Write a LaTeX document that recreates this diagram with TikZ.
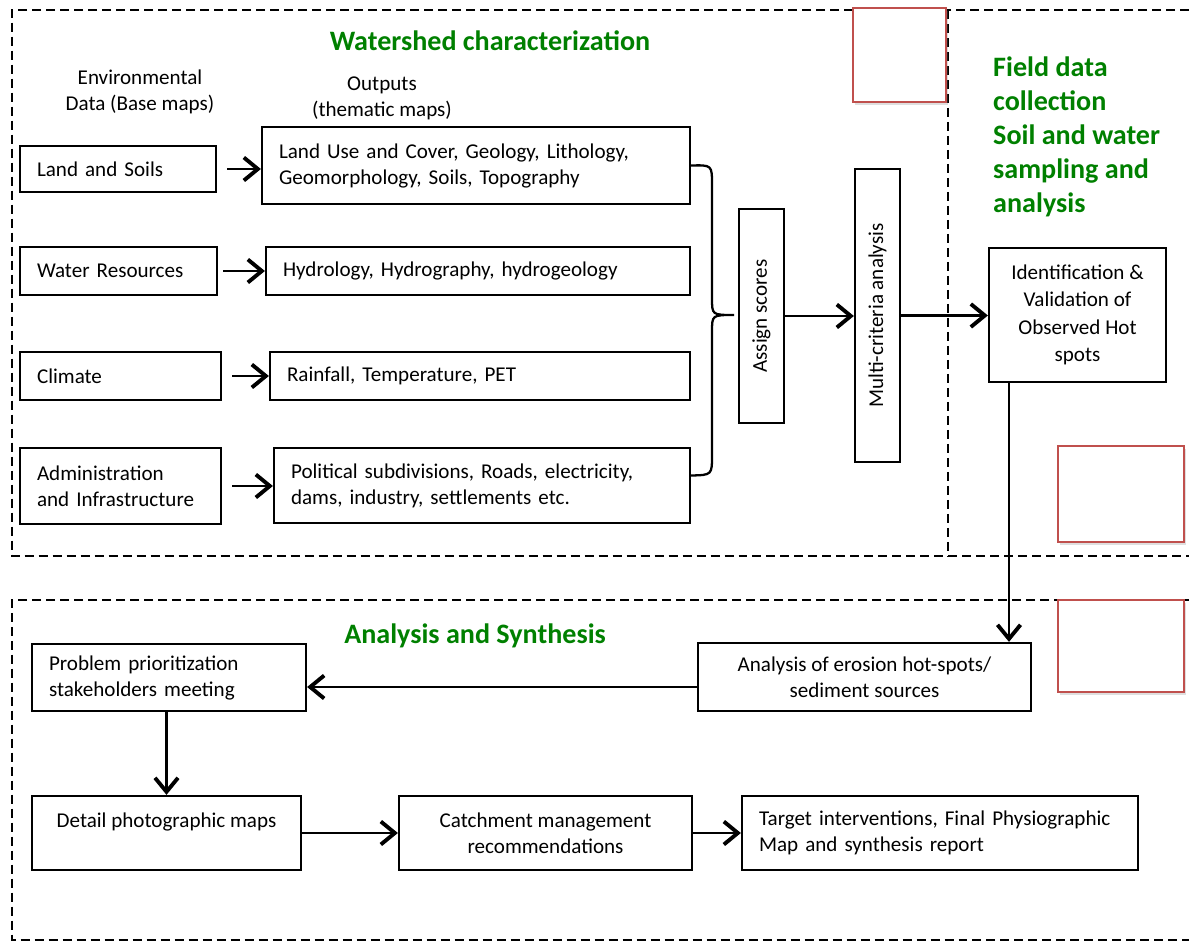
\documentclass[tikz,border=0pt]{standalone}
\usepackage{fontspec}
\setmainfont{Carlito}
\usetikzlibrary{arrows.meta,shadows}
\definecolor{hdgreen}{RGB}{0,128,0}
\definecolor{boxred}{RGB}{192,80,77}

\begin{document}
\begin{tikzpicture}[x=0.02cm, y=-0.02cm,
  box/.style={draw, line width=1.3pt, font=\fontsize{12}{14.8}\selectfont},
  lbox/.style={box, align=left, inner xsep=0.34cm},
  cbox/.style={box, align=center},
  arr/.style={line width=1.3pt, -{Straight Barb[length=2.8mm, width=4.6mm, line width=2.2pt]}},
  frame/.style={line width=1.3pt, dash pattern=on 0.18cm off 0.1cm},
  redbox/.style={draw=boxred, line width=1.3pt, fill=white, drop shadow={opacity=0.25, shadow xshift=0.04cm, shadow yshift=-0.06cm}},
  head/.style={text=hdgreen, font=\fontsize{16}{19.3}\selectfont\bfseries},
  plain/.style={font=\fontsize{12}{14.8}\selectfont, align=center}]
\useasboundingbox (0,0) rectangle (1190,942);

% dashed frames
\draw[frame] (1189,10) -- (12,10) -- (12,556) -- (1189,556);
\draw[frame] (948,10) -- (948,556);
\draw[frame] (1189,600) -- (12,600) -- (12,940) -- (1189,940);

% empty red boxes
\path[redbox] (853,8) rectangle (946,102);
\path[redbox] (1058,446) rectangle (1184,542);
\path[redbox] (1058,600) rectangle (1184,692);

% watershed characterization
\node[head] (title) at (490,41) {Watershed characterization};
\node[plain] (envlab) at (140,92) {Environmental\\Data (Base maps)};
\node[plain] (outlab) at (382,98) {Outputs\\(thematic maps)};

\node[lbox, text width=3.24cm, minimum height=0.92cm] (land) at (118,169) {Land and Soils};
\node[lbox, text width=7.88cm, minimum height=1.54cm] (out1) at (476,165.5) {Land Use and Cover, Geology, Lithology,\\Geomorphology, Soils, Topography};
\node[lbox, text width=3.26cm, minimum height=0.96cm] (water) at (118.5,271) {Water Resources};
\node[lbox, text width=7.80cm, minimum height=0.96cm] (out2) at (478,271) {Hydrology, Hydrography, hydrogeology};
\node[lbox, text width=3.34cm, minimum height=0.96cm] (climate) at (120.5,376) {Climate};
\node[lbox, text width=7.72cm, minimum height=0.96cm] (out3) at (480,376) {Rainfall, Temperature, PET};
\node[lbox, text width=3.34cm, minimum height=1.52cm] (admin) at (120.5,486) {Administration\\and Infrastructure};
\node[lbox, text width=7.64cm, minimum height=1.50cm] (out4) at (482,485.5) {Political subdivisions, Roads, electricity,\\dams, industry, settlements etc.};

\draw[arr, shorten <=0.2cm] (land.east) -- (land.east -| out1.west);
\draw[arr, shorten <=0.1cm] (water.east) -- (water.east -| out2.west);
\draw[arr, shorten <=0.2cm] (climate.east) -- (climate.east -| out3.west);
\draw[arr, shorten <=0.2cm] (admin.east) -- (admin.east -| out4.west);

% brace
\coordinate (tip) at (734,315);
\draw[line width=1.3pt] (out1.east) .. controls (712,165) .. (712,185) -- (712,298)
  .. controls (712,315) .. (tip) .. controls (712,315) .. (712,332) -- (712,455)
  .. controls (712,475) .. ([yshift=0.2cm]out4.east);

\node[cbox, minimum width=0.9cm, minimum height=4.28cm] (assign) at (761.5,316) {\rotatebox{90}{Assign scores}};
\node[cbox, minimum width=0.9cm, minimum height=5.86cm] (multi) at (877.5,315.5) {\rotatebox{90}{Multi-criteria analysis}};
\node[cbox, minimum width=3.54cm, minimum height=2.68cm, font=\fontsize{12}{15.6}\selectfont] (ident) at (1077.5,315) {Identification \&\\Validation of\\Observed Hot\\spots};

\draw[arr] (assign.east) -- (assign.east -| multi.west);
\draw[arr] (multi.east) -- (multi.east -| ident.west);

% field work
\node[head, align=left, anchor=west] (field) at (987,137) {Field data\\collection\\Soil and water\\sampling and\\analysis};

% analysis and synthesis
\node[head] (syn) at (475,636) {Analysis and Synthesis};
\node[lbox, text width=4.80cm, minimum height=1.34cm] (problem) at (169,677.5) {Problem prioritization\\stakeholders meeting};
\node[cbox, minimum width=6.66cm, minimum height=1.36cm] (erosion) at (864.5,677) {Analysis of erosion hot-spots/\\sediment sources};
\node[cbox, minimum width=5.38cm, minimum height=1.48cm] (detail) at (166.5,833) {Detail photographic maps\\\mbox{}};
\node[cbox, minimum width=5.86cm, minimum height=1.48cm] (catch) at (545.5,833) {Catchment management\\recommendations};
\node[lbox, text width=7.24cm, minimum height=1.48cm] (target) at (940,833) {Target interventions, Final Physiographic\\Map and synthesis report};

\coordinate (drop) at (1009,0);
\draw[arr] (drop |- ident.south) -- (drop |- erosion.north);
\draw[arr] ([yshift=-0.2cm]erosion.west) -- ([yshift=-0.2cm]erosion.west -| problem.east);
\draw[arr] (detail.north |- problem.south) -- (detail.north);
\draw[arr] (detail.east) -- (catch.west);
\draw[arr] (catch.east) -- (target.west);
\end{tikzpicture}
\end{document}
